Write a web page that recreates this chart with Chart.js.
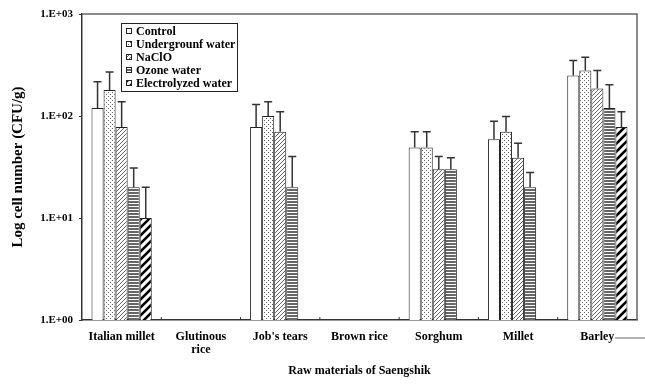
<!DOCTYPE html>
<html>
<head>
<meta charset="utf-8">
<script src="https://cdn.jsdelivr.net/npm/chart.js@4.4.0/dist/chart.umd.min.js"></script>
<style>
  html, body { margin: 0; padding: 0; background: #fff; }
  #wrap { width: 645px; height: 387px; }
</style>
</head>
<body>
<div id="wrap"><canvas id="BarChart"></canvas></div>
<script>
const categories = ['Italian millet', ['Glutinous', 'rice'], "Job's tears", 'Brown rice', 'Sorghum', 'Millet', 'Barley'];
const seriesNames = ['Control', 'Undergrounf water', 'NaClO', 'Ozone water', 'Electrolyzed water'];

const control = [120, null, 78, null, 49, 59, 250];
const underground = [180, null, 100, null, 49, 70, 280];
const naclo = [78, null, 70, null, 30, 39, 186];
const ozone = [20, null, 20, null, 30, 20, 120];
const electrolyzed = [10, null, null, null, null, null, 78];

// upper end of each error bar
const controlErr = [217, null, 130, null, 70, 89, 350];
const undergroundErr = [270, null, 138, null, 70, 99, 376];
const nacloErr = [138, null, 110, null, 40, 54, 280];
const ozoneErr = [31, null, 40, null, 39, 28, 202];
const electrolyzedErr = [20, null, null, null, null, null, 110];

const yTicks = [1, 10, 100, 1000];

const serif = 'Liberation Serif, Times New Roman, serif';

function makePattern(w, h, draw) {
  const c = document.createElement('canvas');
  c.width = w; c.height = h;
  const g = c.getContext('2d');
  g.fillStyle = '#fff';
  g.fillRect(0, 0, w, h);
  draw(g, w, h);
  return g.createPattern(c, 'repeat');
}

function diagonal(g, s, color, width) {
  g.strokeStyle = color;
  g.lineWidth = width;
  g.beginPath();
  g.moveTo(-1, s + 1); g.lineTo(s + 1, -1);
  g.moveTo(-1, 1); g.lineTo(1, -1);
  g.moveTo(s - 1, s + 1); g.lineTo(s + 1, s - 1);
  g.stroke();
}

const fills = [
  '#ffffff',
  makePattern(4, 4, (g) => { g.fillStyle = '#666'; g.fillRect(0, 0, 1, 1); g.fillRect(2, 2, 1, 1); }),
  makePattern(4, 4, (g, s) => diagonal(g, s, '#666', 1)),
  makePattern(4, 3, (g) => { g.fillStyle = '#666'; g.fillRect(0, 0, 4, 2); }),
  makePattern(8, 8, (g, s) => diagonal(g, s, '#000', 2.6)),
];

const values = [control, underground, naclo, ozone, electrolyzed];
const errors = [controlErr, undergroundErr, nacloErr, ozoneErr, electrolyzedErr];

const errorBars = {
  id: 'errorBars',
  afterDatasetsDraw(chart) {
    const { ctx, scales: { y } } = chart;
    ctx.save();
    ctx.strokeStyle = '#333';
    ctx.lineWidth = 1.5;
    chart.data.datasets.forEach((ds, di) => {
      chart.getDatasetMeta(di).data.forEach((bar, i) => {
        const top = errors[di][i];
        if (ds.data[i] == null || top == null) return;
        const yTop = y.getPixelForValue(top);
        ctx.beginPath();
        ctx.moveTo(bar.x, bar.y);
        ctx.lineTo(bar.x, yTop);
        ctx.moveTo(bar.x - 4, yTop);
        ctx.lineTo(bar.x + 4, yTop);
        ctx.stroke();
      });
    });
    ctx.restore();
  },
};

const frame = {
  id: 'frame',
  afterDraw(chart) {
    const { ctx, chartArea: a, scales: { x } } = chart;
    ctx.save();
    // top and right border
    ctx.strokeStyle = '#666';
    ctx.lineWidth = 1.5;
    ctx.beginPath();
    ctx.moveTo(a.left, a.top);
    ctx.lineTo(a.right, a.top);
    ctx.lineTo(a.right, a.bottom);
    ctx.stroke();
    // small inward ticks between categories
    ctx.strokeStyle = '#333';
    ctx.lineWidth = 1;
    ctx.beginPath();
    for (let i = 1; i < categories.length; i++) {
      const px = (x.getPixelForValue(i - 1) + x.getPixelForValue(i)) / 2;
      ctx.moveTo(px, a.bottom);
      ctx.lineTo(px, a.bottom - 3);
    }
    ctx.stroke();
    // stray line after "Barley"
    ctx.beginPath();
    ctx.moveTo(a.right - 22, a.bottom + 18);
    ctx.lineTo(chart.width, a.bottom + 18);
    ctx.strokeStyle = '#666';
    ctx.stroke();

    // legend box
    const lx = a.left + 39, ly = a.top + 9, lw = 116, lh = 68;
    ctx.fillStyle = '#fff';
    ctx.fillRect(lx, ly, lw, lh);
    ctx.strokeStyle = '#222';
    ctx.lineWidth = 1;
    ctx.strokeRect(lx + 0.5, ly + 0.5, lw, lh);
    ctx.font = 'bold 12px ' + serif;
    ctx.textBaseline = 'middle';
    seriesNames.forEach((name, k) => {
      const cy = ly + 8 + k * 13;
      ctx.fillStyle = fills[k];
      ctx.fillRect(lx + 5, cy - 3, 6, 6);
      ctx.strokeRect(lx + 5.5, cy - 2.5, 5, 5);
      ctx.fillStyle = '#000';
      ctx.fillText(name, lx + 15, cy + 1);
    });
    ctx.restore();
  },
};

const datasets = seriesNames.map((name, k) => ({
  label: name,
  data: values[k],
  backgroundColor: fills[k],
  borderColor: '#222',
  borderWidth: 1,
  categoryPercentage: 0.76,
  barPercentage: 1,
}));

new Chart(document.getElementById('BarChart'), {
  type: 'bar',
  data: { labels: categories, datasets },
  plugins: [errorBars, frame],
  options: {
    responsive: true,
    maintainAspectRatio: false,
    animation: false,
    layout: { padding: { left: 0, right: 8, top: 14, bottom: 0 } },
    plugins: {
      legend: { display: false },
      tooltip: { enabled: false },
    },
    scales: {
      x: {
        afterFit: (s) => { s.height = 67; },
        border: { color: '#333', width: 1.5 },
        grid: { display: false },
        ticks: { color: '#000', font: { family: serif, size: 12, weight: 'bold', lineHeight: 1.1 }, padding: 2, maxRotation: 0 },
        title: {
          display: true,
          text: 'Raw materials of Saengshik',
          color: '#000',
          font: { family: serif, size: 12, weight: 'bold' },
          padding: { top: 0, bottom: 9 },
        },
      },
      y: {
        type: 'logarithmic',
        min: 1,
        max: 1000,
        afterBuildTicks: (s) => { s.ticks = yTicks.map((v) => ({ value: v })); },
        afterFit: (s) => { s.width = 82; },
        border: { color: '#333', width: 1.5 },
        grid: { drawOnChartArea: false, tickLength: 3, color: '#333' },
        ticks: {
          color: '#000',
          padding: 6,
          font: { family: serif, size: 11, weight: 'bold' },
          callback: (v) => '1.E+' + String(Math.round(Math.log10(v))).padStart(2, '0'),
        },
        title: {
          display: true,
          text: 'Log cell number (CFU/g)',
          color: '#000',
          font: { family: serif, size: 15, weight: 'bold' },
          padding: { top: 9, bottom: 0 },
        },
      },
    },
  },
});
</script>
</body>
</html>
